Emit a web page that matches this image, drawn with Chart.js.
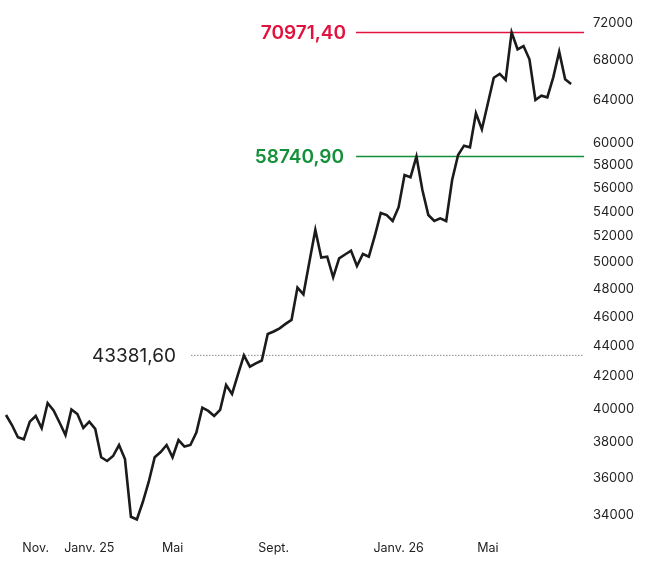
<!DOCTYPE html>
<html>
<head>
<meta charset="utf-8">
<script src="https://cdn.jsdelivr.net/npm/chart.js@4.4.1/dist/chart.umd.min.js"></script>
<style>
  html, body { margin: 0; padding: 0; background: #ffffff; }
  #wrap { width: 645px; height: 565px; position: relative; }
</style>
</head>
<body>
<div id="wrap"><canvas id="c" width="645" height="565"></canvas></div>
<script>
// ---- data ----
const values = [
  39610, 39010, 38290, 38170, 39210, 39550, 38820, 40340, 39890, 39160,
  38420, 39950, 39670, 38840, 39210, 38780, 37140, 36930, 37210, 37840,
  37040, 33920, 33780, 34690, 35780, 37140, 37440, 37840, 37140, 38130,
  37750, 37840, 38560, 40060, 39860, 39550, 39920, 41470, 40900, 42140,
  43381.6, 42640, 42850, 43040, 44820, 44990, 45210, 45510, 45790, 48100,
  47610, 50020, 52520, 50350, 50420, 48860, 50300, 50590, 50890, 49710,
  50630, 50420, 52040, 53900, 53730, 53240, 54370, 57110, 56910, 58740.9,
  55820, 53730, 53240, 53460, 53240, 56680, 58880, 59720, 59570, 62740,
  61230, 63690, 66240, 66620, 66010, 70971.4, 69170, 69520, 68120, 64030,
  64450, 64290, 66280, 68920, 66080, 65610
];
const slotCount = 98;                       // weekly slots on the x axis
const monthLabels = ['Nov.', 'Janv. 25', 'Mai', 'Sept.', 'Janv. 26', 'Mai'];
const monthIndex  = [5, 14, 28, 45, 66, 81];
const yTickValues = [34000, 36000, 38000, 40000, 42000, 44000, 46000, 48000,
                     50000, 52000, 54000, 56000, 58000, 60000, 64000, 68000, 72000];
const yMin = 33242, yMax = 73441;
const refValues = [70971.40, 58740.90, 43381.60];
const refLabels = ['70971,40', '58740,90', '43381,60'];

// ---- build ----
const categories = Array.from({length: slotCount}, (_, i) => {
  const k = monthIndex.indexOf(i);
  return k >= 0 ? monthLabels[k] : '';
});

const FONT = 'Inter, "Noto Sans", sans-serif';
const refStyles = [
  {color: '#e1123d', stroke: '#e1123d', lineStart: 356, textRight: 346, dash: [], width: 1.5, weight: '600'},
  {color: '#14903a', stroke: '#14903a', lineStart: 356, textRight: 344, dash: [], width: 1.5, weight: '600'},
  {color: '#222222', stroke: '#8a8a8a', lineStart: 191, textRight: 176, dash: [1.5, 1.5], width: 1, weight: '400'}
];

const refPlugin = {
  id: 'refLines',
  beforeDatasetsDraw(chart) {
    const {ctx, chartArea, scales} = chart;
    refValues.forEach((v, k) => {
      const s = refStyles[k];
      const y = scales.y.getPixelForValue(v);
      ctx.save();
      ctx.strokeStyle = s.stroke;
      ctx.lineWidth = s.width;
      ctx.setLineDash(s.dash);
      ctx.beginPath();
      ctx.moveTo(s.lineStart, y);
      ctx.lineTo(chartArea.right + 1, y);
      ctx.stroke();
      ctx.setLineDash([]);
      ctx.fillStyle = s.color;
      ctx.font = s.weight + ' 19px ' + FONT;
      ctx.textAlign = 'right';
      ctx.textBaseline = 'middle';
      ctx.fillText(refLabels[k], s.textRight, y + 1);
      ctx.restore();
    });
  }
};

const hiddenGrid = {display: true, drawOnChartArea: false, drawTicks: true, color: 'rgba(0,0,0,0)'};

new Chart(document.getElementById('c'), {
  type: 'line',
  data: {
    labels: categories,
    datasets: [{
      data: values,
      borderColor: '#1b1b1b',
      borderWidth: 2.6,
      pointRadius: 0,
      tension: 0,
      fill: false,
      borderJoinStyle: 'miter'
    }]
  },
  options: {
    responsive: false,
    animation: false,
    devicePixelRatio: 1,
    layout: {padding: {left: 6, right: 0, top: 10, bottom: 0}},
    plugins: {legend: {display: false}, tooltip: {enabled: false}},
    scales: {
      x: {
        type: 'category',
        grid: Object.assign({tickLength: 11}, hiddenGrid),
        border: {display: false},
        afterFit(scale) { scale.height = 35; },
        ticks: {
          autoSkip: false,
          maxRotation: 0,
          minRotation: 0,
          padding: 0,
          color: '#222222',
          font: {family: FONT, size: 12.5},
          callback(val, i) { return categories[i]; }
        }
      },
      y: {
        type: 'logarithmic',
        position: 'right',
        bounds: 'data',
        grid: Object.assign({tickLength: 10}, hiddenGrid),
        border: {display: false},
        afterDataLimits(scale) { scale.min = yMin; scale.max = yMax; },
        afterFit(scale) { scale.width = 62; },
        afterBuildTicks(scale) {
          scale.ticks = yTickValues.map(v => ({value: v}));
        },
        ticks: {
          padding: 0,
          color: '#222222',
          font: {family: FONT, size: 13},
          callback(v) { return String(v); }
        }
      }
    }
  },
  plugins: [refPlugin]
});
</script>
</body>
</html>
